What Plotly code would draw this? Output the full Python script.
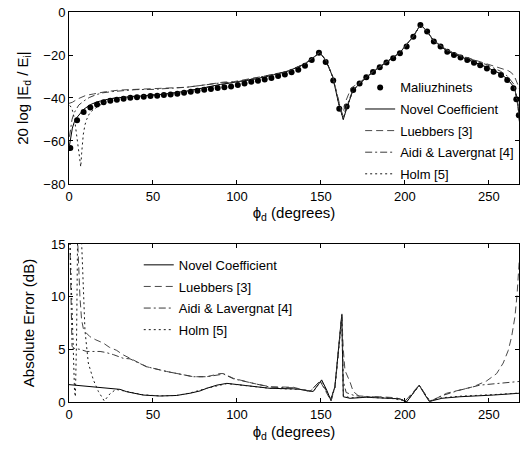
import plotly.graph_objects as go
from plotly.subplots import make_subplots

# ---------------- diffracted field level, 20 log|Ed/Ei| (dB) ----------------
mal_phi = [0.8, 4.8, 8.7, 12.7, 16.7, 20.6, 24.6, 28.5, 32.5, 36.5, 40.5, 44.5,
           48.5, 52.5, 56.5, 60.5, 64.5, 68.5, 72.5, 76.5, 80.5, 84.5, 88.5,
           92.5, 96.5, 100.5, 104.5, 108.5, 112.5, 116.5, 120.5, 124.5, 128.5,
           132.5, 136.5, 140.5, 144.5, 148.8, 152.8, 157.3, 160.9, 165.3, 169.2,
           173.0, 177.0, 181.0, 185.0, 189.0, 193.0, 197.0, 201.0, 205.0, 209.2,
           213.2, 217.2, 221.2, 225.2, 229.2, 233.1, 237.1, 241.1, 244.8, 248.8,
           252.8, 257.2, 260.9, 264.6, 266.3, 267.8]
mal_db = [-63.3, -50.3, -46.5, -44.4, -43.0, -42.0, -41.3, -40.8, -40.3, -39.9,
          -39.6, -39.4, -39.1, -38.9, -38.6, -38.4, -38.0, -37.6, -37.1, -36.6,
          -36.2, -35.8, -35.4, -35.0, -34.6, -34.0, -33.3, -32.5, -32.0, -31.4,
          -30.7, -29.8, -29.1, -28.0, -26.9, -25.0, -22.3, -19.0, -23.3, -31.9,
          -45.0, -44.0, -36.3, -33.2, -30.4, -27.9, -25.7, -23.5, -21.5, -19.2,
          -16.1, -11.5, -6.1, -9.1, -13.7, -16.1, -18.5, -20.0, -21.2, -22.3,
          -23.6, -24.8, -26.3, -27.8, -29.3, -31.6, -35.5, -40.6, -48.0]

novel_phi = [0.3, 1.0, 2.0, 3.0, 4.8, 8.7, 12.7, 16.7, 20.6, 24.6, 30, 40, 50,
             60, 70, 80, 90, 100, 110, 120, 130, 140, 145, 149.2, 153, 157,
             160.5, 163.3, 165, 169, 173, 181, 189, 197, 205, 209.3, 213, 217,
             225, 233, 241, 249, 257, 261, 265, 267, 268.3]
novel_db = [-62.0, -58.0, -54.0, -51.5, -49.0, -45.3, -43.1, -41.8, -40.9,
            -40.3, -39.8, -39.3, -38.7, -37.9, -36.8, -35.3, -33.7, -32.5,
            -31.3, -29.6, -27.6, -24.4, -21.6, -18.8, -22.6, -30.2, -42.5,
            -50.0, -45.5, -36.6, -33.3, -27.8, -23.2, -18.9, -11.3, -5.8, -8.8,
            -13.3, -18.2, -20.8, -23.2, -25.8, -28.8, -31.2, -35.0, -41.0, -52.0]

lueb_phi = [0.0, 2.0, 5.0, 7.7, 10, 14.7, 21.6, 30, 40, 50, 60, 70, 80, 90, 92,
            98, 110, 120, 130, 140, 145, 149.2, 153, 157, 160.5, 162.5, 163.5,
            165, 168, 173, 181, 189, 197, 205, 209.3, 213, 217, 225, 233, 241,
            249, 255, 258.5, 261.5, 263.5, 265.5, 266.8, 268.3]
lueb_db = [-42.5, -42.0, -40.5, -39.4, -38.8, -38.1, -37.1, -36.3, -36.0, -35.9,
           -35.6, -35.0, -34.0, -33.0, -32.6, -32.4, -30.8, -29.3, -27.5, -24.2,
           -21.4, -18.8, -22.4, -30.0, -41.0, -47.5, -46.0, -41.0, -35.3, -32.8,
           -27.7, -23.1, -18.9, -11.3, -5.9, -8.8, -13.2, -17.6, -20.2, -22.2,
           -24.3, -25.8, -26.5, -27.3, -28.3, -30.5, -33.0, -36.0]

aidi_phi = [0.3, 1.0, 1.8, 3.0, 5.8, 9, 12, 16, 20, 26, 32, 40, 50, 60, 70, 80,
            90, 100, 110, 120, 130, 140, 145, 149.2, 153, 157, 160.5, 163.3,
            165, 169, 173, 181, 189, 197, 205, 209.3, 213, 217, 225, 233, 241,
            249, 257, 261, 265, 267.5, 268.3]
aidi_db = [-58.0, -55.0, -50.0, -47.0, -43.3, -41.3, -39.8, -38.5, -37.6, -37.0,
           -36.5, -36.1, -36.0, -35.6, -35.0, -34.0, -33.0, -32.5, -30.9, -29.4,
           -27.6, -24.3, -21.5, -18.8, -22.5, -30.0, -41.5, -49.0, -44.5, -36.2,
           -33.1, -27.7, -23.1, -18.9, -11.3, -5.9, -8.8, -13.3, -17.7, -20.4,
           -22.4, -24.6, -27.6, -29.8, -33.8, -45.0, -52.0]

holm_phi = [0.5, 1.5, 2.5, 3.5, 4.5, 5.5, 6.5, 7.0, 7.5, 8.5, 9.5, 10.5, 12,
            14, 17, 20, 25, 30, 40, 50, 60, 70, 80, 90, 100, 110, 120, 130,
            140, 145, 149.2, 153, 157, 160.5, 163.3, 165, 169, 173, 181, 189,
            197, 205, 209.3, 213, 217, 225, 233, 241, 249, 257, 261, 265, 267,
            268.3]
holm_db = [-43.5, -44.5, -47.0, -51.0, -57.0, -63.0, -70.0, -72.0, -66.0, -57.0,
           -52.5, -50.0, -47.5, -45.8, -44.0, -42.6, -40.4, -39.7, -39.2, -38.6,
           -37.9, -36.8, -35.3, -33.7, -32.5, -31.3, -29.6, -27.6, -24.4, -21.6,
           -18.8, -22.6, -30.2, -42.5, -50.0, -45.5, -36.6, -33.3, -27.8, -23.2,
           -18.9, -11.3, -5.8, -8.8, -13.3, -18.2, -20.8, -23.2, -25.8, -28.8,
           -31.2, -35.0, -41.0, -52.0]

# ---------------- absolute error against Maliuzhinets (dB) ----------------
novel_err_phi = [0.0, 10, 14.5, 24.4, 30.4, 34.3, 44.2, 54, 64, 72, 78, 82, 88,
                 94, 100, 109.6, 119.6, 133.5, 137.5, 145.4, 150.4, 153.4, 155.8,
                 158.3, 160.3, 161.7, 162.4, 163.3, 167.3, 177, 190, 197, 201,
                 204.5, 208.5, 212, 214.5, 222, 232.7, 252.6, 268]
novel_err = [1.65, 1.5, 1.45, 1.3, 1.2, 0.98, 0.66, 0.57, 0.62, 0.83, 1.05, 1.3,
             1.6, 1.77, 1.65, 1.45, 1.3, 1.25, 1.2, 1.0, 2.1, 1.14, 0.2, 1.45,
             4.6, 6.8, 8.3, 0.5, 0.35, 0.45, 0.35, 0.3, 0.0, 0.8, 1.6, 0.66,
             0.05, 0.35, 0.5, 0.66, 0.83]

lueb_err_phi = [4.5, 5.5, 6.5, 7.5, 8.5, 10, 12.5, 16, 20.4, 24, 28.4, 32, 36.3,
                46.2, 58.1, 74, 82, 89.9, 92, 97.8, 109.7, 119.6, 133.5, 143.5,
                149.4, 153, 156, 158.3, 160.3, 161.7, 162.4, 163.3, 164.3, 167.3,
                169.2, 173, 185, 195, 200, 204, 208.5, 212, 215, 224.8, 232,
                240.7, 248.6, 254.6, 258.5, 261.5, 263.5, 265.5, 266.8, 268]
lueb_err = [18, 14, 10, 7.8, 7.0, 6.6, 6.2, 5.9, 5.6, 5.2, 4.9, 4.5, 4.15, 3.35,
            2.9, 2.4, 2.4, 2.7, 2.7, 2.25, 1.77, 1.45, 1.4, 1.0, 2.0, 1.0, 0.1,
            1.4, 4.5, 7.0, 8.2, 5.0, 3.0, 1.9, 1.0, 0.5, 0.5, 0.4, 0.05, 0.8,
            1.6, 0.7, 0.05, 0.83, 1.1, 1.45, 2.0, 2.7, 3.7, 4.9, 6.2, 8.1, 10.3,
            13.3]

aidi_err_phi = [0.3, 0.8, 1.3, 1.8, 3, 6.5, 10.5, 18.5, 22, 26.4, 32.3, 36.3,
                46.2, 58, 74, 82, 90, 92, 98, 110, 120, 133.5, 143.5, 149.4, 153,
                156, 158.3, 160.3, 161.7, 162.5, 163.3, 165, 170, 180, 190, 200,
                204.5, 208.5, 212, 215, 222, 232, 244.6, 256.5, 268]
aidi_err = [17, 13, 9, 5.3, 5.1, 5.0, 4.8, 4.8, 4.7, 4.5, 4.15, 4.1, 3.35, 2.9,
            2.4, 2.4, 2.6, 2.65, 2.2, 1.75, 1.4, 1.35, 1.0, 2.0, 1.1, 0.1, 1.4,
            4.5, 7.2, 8.4, 2.0, 0.9, 0.6, 0.5, 0.4, 0.1, 0.8, 1.6, 0.7, 0.05,
            0.6, 1.1, 1.6, 1.77, 1.95]

holm_err_phi = [0.3, 1.5, 2.5, 3.3, 3.8, 4.5, 5.2, 7.0, 7.8, 8.5, 9.5, 11.5,
                14.5, 17.5, 21.0, 24.5, 28.0, 34.3, 44.2, 54, 64, 72, 82, 94,
                109.6, 119.6, 137.5, 145.4, 150.4, 153.4, 155.8, 158.3, 160.3,
                161.7, 162.4, 163.3, 167.3, 177, 197, 201, 204.5, 208.5, 212,
                214.5, 222, 232.7, 252.6, 268]
holm_err = [17, 10, 4.5, 1.0, 0.5, 6, 17, 17, 14, 10, 6.8, 3.7, 2.1, 1.0, 0.1,
            0.8, 1.2, 1.0, 0.68, 0.58, 0.62, 0.85, 1.3, 1.75, 1.45, 1.3, 1.2,
            1.0, 2.05, 1.1, 0.25, 1.4, 4.5, 6.7, 8.1, 0.6, 0.4, 0.45, 0.3, 0.05,
            0.8, 1.55, 0.7, 0.1, 0.4, 0.55, 0.7, 0.85]

x_ticks = [0, 50, 100, 150, 200, 250]
db_ticks = [-80, -60, -40, -20, 0]
err_ticks = [0, 5, 10, 15]

FONT = "Liberation Sans, Arial, Helvetica, sans-serif"
INK = "#000000"

fig = make_subplots(rows=2, cols=1, shared_xaxes=False, vertical_spacing=0.154)

styles = {
    "novel": dict(color="#000000", width=1, dash="solid"),
    "lueb": dict(color="#4a4a4a", width=1, dash="7px,4px"),
    "aidi": dict(color="#3a3a3a", width=1, dash="7px,3px,2px,3px"),
    "holm": dict(color="#1a1a1a", width=1, dash="2px,3px"),
}

# top panel
fig.add_trace(go.Scatter(x=mal_phi, y=mal_db, mode="markers", name="Maliuzhinets",
                         marker=dict(color="#000000", size=6),
                         legend="legend", legendgroup="t0"), row=1, col=1)
fig.add_trace(go.Scatter(x=novel_phi, y=novel_db, mode="lines", name="Novel Coefficient",
                         line=styles["novel"], legend="legend", legendgroup="t1"), row=1, col=1)
fig.add_trace(go.Scatter(x=lueb_phi, y=lueb_db, mode="lines", name="Luebbers [3]",
                         line=styles["lueb"], legend="legend", legendgroup="t2"), row=1, col=1)
fig.add_trace(go.Scatter(x=aidi_phi, y=aidi_db, mode="lines", name="Aidi & Lavergnat [4]",
                         line=styles["aidi"], legend="legend", legendgroup="t3"), row=1, col=1)
fig.add_trace(go.Scatter(x=holm_phi, y=holm_db, mode="lines", name="Holm [5]",
                         line=styles["holm"], legend="legend", legendgroup="t4"), row=1, col=1)

# bottom panel
fig.add_trace(go.Scatter(x=novel_err_phi, y=novel_err, mode="lines", name="Novel Coefficient",
                         line=styles["novel"], legend="legend2", legendgroup="b1"), row=2, col=1)
fig.add_trace(go.Scatter(x=lueb_err_phi, y=lueb_err, mode="lines", name="Luebbers [3]",
                         line=styles["lueb"], legend="legend2", legendgroup="b2"), row=2, col=1)
fig.add_trace(go.Scatter(x=aidi_err_phi, y=aidi_err, mode="lines", name="Aidi & Lavergnat [4]",
                         line=styles["aidi"], legend="legend2", legendgroup="b3"), row=2, col=1)
fig.add_trace(go.Scatter(x=holm_err_phi, y=holm_err, mode="lines", name="Holm [5]",
                         line=styles["holm"], legend="legend2", legendgroup="b4"), row=2, col=1)

axis_common = dict(
    showline=True, linecolor=INK, linewidth=1, mirror="ticks",
    ticks="inside", ticklen=4, tickcolor=INK, tickwidth=1,
    showgrid=False, zeroline=False,
    tickfont=dict(family=FONT, size=13, color=INK),
)

for r, dom in ((1, [0.559, 1.0]), (2, [0.0, 0.405])):
    fig.update_xaxes(range=[0, 267.9], tickvals=x_ticks, domain=[0, 1],
                     title=dict(text="ϕ<sub>d</sub> (degrees)",
                                font=dict(family=FONT, size=15, color=INK),
                                standoff=2 if r == 1 else 5),
                     row=r, col=1, **axis_common)
    fig.update_yaxes(domain=dom, row=r, col=1, **axis_common)

fig.update_yaxes(range=[-80, 0], tickvals=db_ticks, row=1, col=1,
                 title=dict(text="20 log |E<sub>d</sub> / E<sub>i</sub>|",
                            font=dict(family=FONT, size=15, color=INK), standoff=11))
fig.update_yaxes(range=[0, 15], tickvals=err_ticks, row=2, col=1,
                 title=dict(text="Absolute Error (dB)",
                            font=dict(family=FONT, size=15, color=INK), standoff=12))

legend_common = dict(bgcolor="rgba(0,0,0,0)", borderwidth=0,
                     font=dict(family=FONT, size=13, color=INK),
                     xanchor="left", yanchor="top", tracegroupgap=1.7,
                     itemwidth=30)

fig.update_layout(
    width=521, height=450,
    margin=dict(l=69, r=2, t=12, b=48),
    paper_bgcolor="white", plot_bgcolor="white",
    font=dict(family=FONT, color=INK),
    legend=dict(x=0.647, y=0.845, **legend_common),
    legend2=dict(x=0.155, y=0.39, **legend_common),
)

fig.write_html("out.html")
